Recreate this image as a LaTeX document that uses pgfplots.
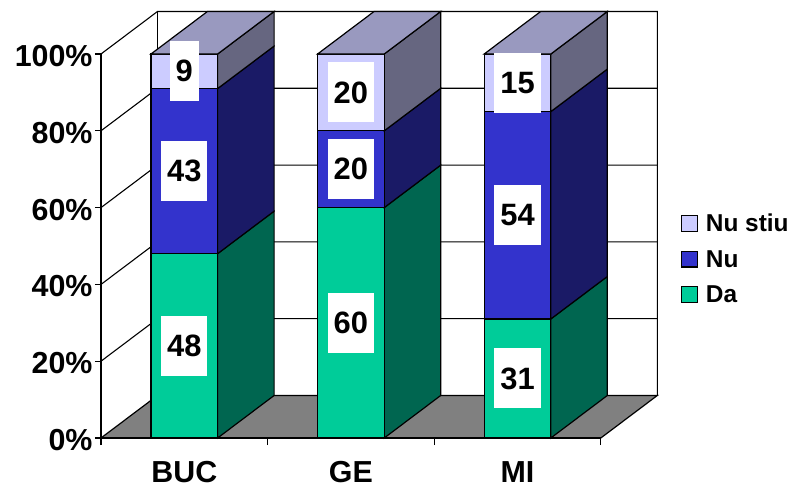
\documentclass[border=0pt]{standalone}
\usepackage{fontspec}
\setmainfont{Liberation Sans}
\usepackage{pgfplots}
\pgfplotsset{compat=1.18}

\definecolor{daF}{HTML}{00CC99}
\definecolor{daS}{HTML}{006650}
\definecolor{nuF}{HTML}{3333CC}
\definecolor{nuS}{HTML}{1A1A66}
\definecolor{nsF}{HTML}{CCCCFF}
\definecolor{nsS}{HTML}{666680}
\definecolor{nsT}{HTML}{9999BF}
\definecolor{floorC}{HTML}{808080}

% depth of the oblique projection, in axis units
\newcommand\dxx{0.339}
\newcommand\dyy{11.07}

% one stacked block: centre x, lower value, upper value, front colour, side colour
\newcommand\block[5]{%
  \pgfmathsetmacro\xa{#1-0.2}%
  \pgfmathsetmacro\xb{#1+0.2}%
  \pgfmathsetmacro\xc{\xb+\dxx}%
  \pgfmathsetmacro\ya{#2+\dyy}%
  \pgfmathsetmacro\yb{#3+\dyy}%
  \addplot[draw=black,line width=1.2bp,fill=#5,forget plot] coordinates {(\xb,#2) (\xc,\ya) (\xc,\yb) (\xb,#3)} -- cycle;
  \addplot[draw=black,line width=1.2bp,fill=#4,forget plot] coordinates {(\xa,#2) (\xb,#2) (\xb,#3) (\xa,#3)} -- cycle;
}
% lid of a column: centre x
\newcommand\lid[1]{%
  \pgfmathsetmacro\xa{#1-0.2}%
  \pgfmathsetmacro\xb{#1+0.2}%
  \pgfmathsetmacro\xc{\xb+\dxx}%
  \pgfmathsetmacro\xd{\xa+\dxx}%
  \pgfmathsetmacro\yb{100+\dyy}%
  \addplot[draw=black,line width=1.2bp,fill=nsT,forget plot] coordinates {(\xa,100) (\xb,100) (\xc,\yb) (\xd,\yb)} -- cycle;
}

\begin{document}
\begin{tikzpicture}
\useasboundingbox (0,0) rectangle (794bp,488bp);
\begin{axis}[
  at={(101bp,50bp)}, anchor=south west,
  scale only axis, width=556.3bp, height=426.5bp,
  xmin=0, xmax=3.339, ymin=0, ymax=111.07,
  clip=false, no markers,
  axis line style={draw=none},
  font=\fontsize{30.5}{31}\selectfont\bfseries,
  xtick={0.5,1.5,2.5}, xticklabels={BUC,GE,MI},
  minor xtick={0,1,2,3},
  ytick={0,20,40,60,80,100},
  yticklabels={0\%,20\%,40\%,60\%,80\%,100\%},
  xtick pos=bottom, ytick pos=left,
  tick align=outside,
  major tick length=6bp, minor tick length=7bp,
  major x tick style={draw=none},
  minor x tick style={black,line width=1.2bp},
  major y tick style={black,line width=1.2bp},
  xticklabel style={yshift=-14bp},
  yticklabel style={xshift=1bp,yshift=-2bp},
  legend style={
    at={(axis description cs:1.0425,0.4197)}, anchor=west,
    draw=none, fill=none, inner sep=0pt,
    font=\fontsize{24.5}{25}\selectfont\bfseries,
    row sep=17bp, nodes={inner sep=0pt, anchor=west},
  },
  legend cell align=left,
  legend image code/.code={
    \draw[#1,line width=1.2bp] (0bp,-7.5bp) rectangle (16bp,8bp);
    \path (24bp,0bp);
  },
]
% floor
\addplot[fill=floorC,draw=black,line width=1.2bp,forget plot]
  coordinates {(0,0) (3,0) (3.339,11.07) (0.339,11.07)} -- cycle;

% walls: left oblique rulings and back rulings
\addplot[black,line width=1.1bp,forget plot] coordinates {(0,100) (0.339,111.07) (3.339,111.07) (3.339,11.07)};
\addplot[black,line width=1.1bp,forget plot] coordinates {(0.339,11.07) (0.339,111.07)};
\addplot[black,line width=1.1bp,forget plot] coordinates {(0,20) (0.339,31.07) (3.339,31.07)};
\addplot[black,line width=1.1bp,forget plot] coordinates {(0,40) (0.339,51.07) (3.339,51.07)};
\addplot[black,line width=1.1bp,forget plot] coordinates {(0,60) (0.339,71.07) (3.339,71.07)};
\addplot[black,line width=1.1bp,forget plot] coordinates {(0,80) (0.339,91.07) (3.339,91.07)};
\addplot[black,line width=1.5bp,forget plot] coordinates {(0,0) (0,100)};

% columns
\block{0.5}{0}{48}{daF}{daS}
\block{0.5}{48}{91}{nuF}{nuS}
\block{0.5}{91}{100}{nsF}{nsS}
\lid{0.5}
\block{1.5}{0}{60}{daF}{daS}
\block{1.5}{60}{80}{nuF}{nuS}
\block{1.5}{80}{100}{nsF}{nsS}
\lid{1.5}
\block{2.5}{0}{31}{daF}{daS}
\block{2.5}{31}{85}{nuF}{nuS}
\block{2.5}{85}{100}{nsF}{nsS}
\lid{2.5}

% front edge of the floor
\addplot[black,line width=1.5bp,forget plot] coordinates {(0,0) (3,0)};

% value labels, centred in their blocks
\addplot[draw=none,forget plot,
  point meta=explicit symbolic,
  nodes near coords,
  nodes near coords style={anchor=center,fill=white,inner xsep=6bp,inner ysep=0pt,minimum height=60bp,text=black,font=\fontsize{31}{32}\selectfont\bfseries},
] table[meta=lab] {
x   y     lab
0.5 24    48
0.5 69.5  43
0.5 95.5  9
1.5 30    60
1.5 70    20
1.5 90    20
2.5 15.5  31
2.5 58    54
2.5 92.5  15
};

% legend keys
\addlegendimage{draw=black,fill=nsF}
\addlegendentry{Nu stiu}
\addlegendimage{draw=black,fill=nuF}
\addlegendentry{Nu}
\addlegendimage{draw=black,fill=daF}
\addlegendentry{Da}
\end{axis}
\end{tikzpicture}
\end{document}
